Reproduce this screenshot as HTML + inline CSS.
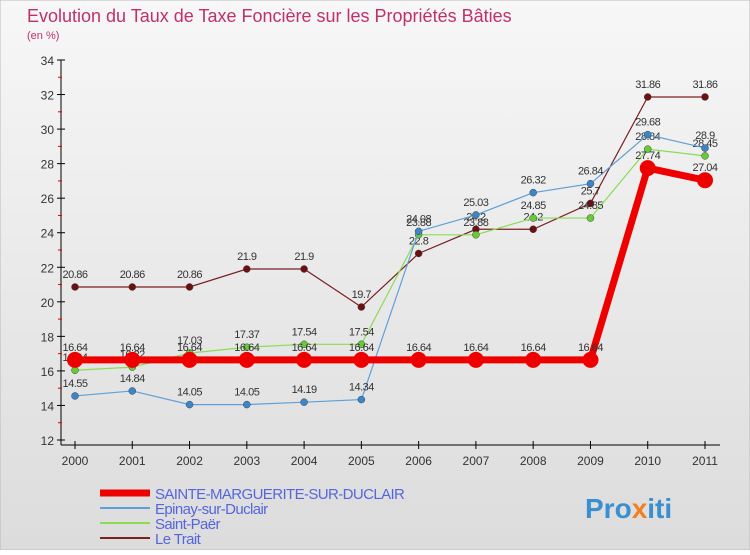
<!DOCTYPE html>
<html><head><meta charset="utf-8"><style>
body{margin:0;width:750px;height:550px;overflow:hidden;font-family:"Liberation Sans",sans-serif}
</style></head><body>
<svg id="chart" width="750" height="550" xmlns="http://www.w3.org/2000/svg">
<defs><linearGradient id="bg" x1="0" y1="0" x2="0" y2="1"><stop offset="0" stop-color="#f7f7f7"/><stop offset="1" stop-color="#dcdcdc"/></linearGradient></defs>
<rect x="0" y="0" width="750" height="550" fill="url(#bg)" stroke="#bbb"/>
<text x="27" y="22" font-size="18" fill="#c0306a">Evolution du Taux de Taxe Foncière sur les Propriétés Bâties</text>
<text x="27" y="39" font-size="11" fill="#c0306a">(en %)</text>
<g id="axes"></g><g id="series"></g><g id="legend"></g>
<text x="585" y="518" font-size="28" font-weight="bold" fill="#3a8fd0">Pro<tspan fill="#f08020">x</tspan>iti</text>
</svg>
<script>
const years=[2000,2001,2002,2003,2004,2005,2006,2007,2008,2009,2010,2011];
const yTicks=[12,14,16,18,20,22,24,26,28,30,32,34];
const sainteMarguerite=[16.64,16.64,16.64,16.64,16.64,16.64,16.64,16.64,16.64,16.64,27.74,27.04];
const epinay=[14.55,14.84,14.05,14.05,14.19,14.34,24.08,25.03,26.32,26.84,29.68,28.9];
const saintPaer=[16.04,16.22,17.03,17.37,17.54,17.54,23.88,23.88,24.85,24.85,28.84,28.45];
const leTrait=[20.86,20.86,20.86,21.9,21.9,19.7,22.8,24.2,24.2,25.7,31.86,31.86];
const seriesNames=["SAINTE-MARGUERITE-SUR-DUCLAIR","Epinay-sur-Duclair","Saint-Paër","Le Trait"];
const NS="http://www.w3.org/2000/svg";
const x=i=>75+i*(630/(years.length-1));
const y=v=>440-(v-12)*(380/22);
function mk(t,a,p){const e=document.createElementNS(NS,t);for(const k in a)e.setAttribute(k,a[k]);p.appendChild(e);return e;}
const ax=document.getElementById('axes');
const yl=mk('line',{x1:61,y1:60,x2:61,y2:445,stroke:'#000'},ax);


const xl=mk('line',{x1:61,y1:445,x2:720,y2:445,stroke:'#000'},ax);


yTicks.forEach(t=>{
 mk('line',{x1:57,y1:y(t),x2:65,y2:y(t),stroke:'#000'},ax);
 if(t<34)mk('line',{x1:58,y1:y(t+1),x2:62,y2:y(t+1),stroke:'#d00'},ax);
 const tx=mk('text',{x:54,y:y(t)+5,'font-size':12,'text-anchor':'end',fill:'#333'},ax);tx.textContent=t;
 
 
});
years.forEach((yr,i)=>{
 mk('line',{x1:x(i),y1:441,x2:x(i),y2:449,stroke:'#000'},ax);
 const tx=mk('text',{x:x(i),y:465,'font-size':12,'text-anchor':'middle',fill:'#333'},ax);tx.textContent=yr;
 
 
});
const sg=document.getElementById('series');
const defs=[[leTrait,'#7a2020','#6b1010',1.2,3.5,'le-trait'],[saintPaer,'#88dd55','#66cc33',1.2,3.5,'saint-paer'],[epinay,'#5fa0d8','#3a86c8',1.2,3.5,'epinay-sur-duclair'],[sainteMarguerite,'#ee0000','#ee0000',7,8,'sainte-marguerite']];
defs.forEach(([d,c,pc,w,r,n])=>{
 const g=mk('g',{},sg);
 
 
 const pl=mk('polyline',{points:d.map((v,i)=>x(i)+','+y(v)).join(' '),fill:'none',stroke:c,'stroke-width':w},g);
 
 
 d.forEach((v,i)=>{
  const p=mk('circle',{cx:x(i),cy:y(v),r:r,fill:pc,stroke:w>3?'none':'#444','stroke-width':0.5},g);
  
  
  const t=mk('text',{x:x(i),y:y(v)-9,'font-size':11,'text-anchor':'middle',fill:'#333','letter-spacing':'-0.5'},g);t.textContent=v;
  
  
 });
});
const lg=document.getElementById('legend');
[['#ee0000',7],['#5fa0d8',2],['#88dd55',2],['#7a2020',2]].forEach(([c,w],i)=>{
 const yy=493+i*15;
 const g=mk('g',{},lg);
 
 
 mk('line',{x1:100,y1:yy,x2:150,y2:yy,stroke:c,'stroke-width':w},g);
 const t=mk('text',{x:155,y:yy+6,'font-size':15,fill:'#5566dd','letter-spacing':'-0.6'},g);t.textContent=seriesNames[i];
});
</script>
</body></html>
